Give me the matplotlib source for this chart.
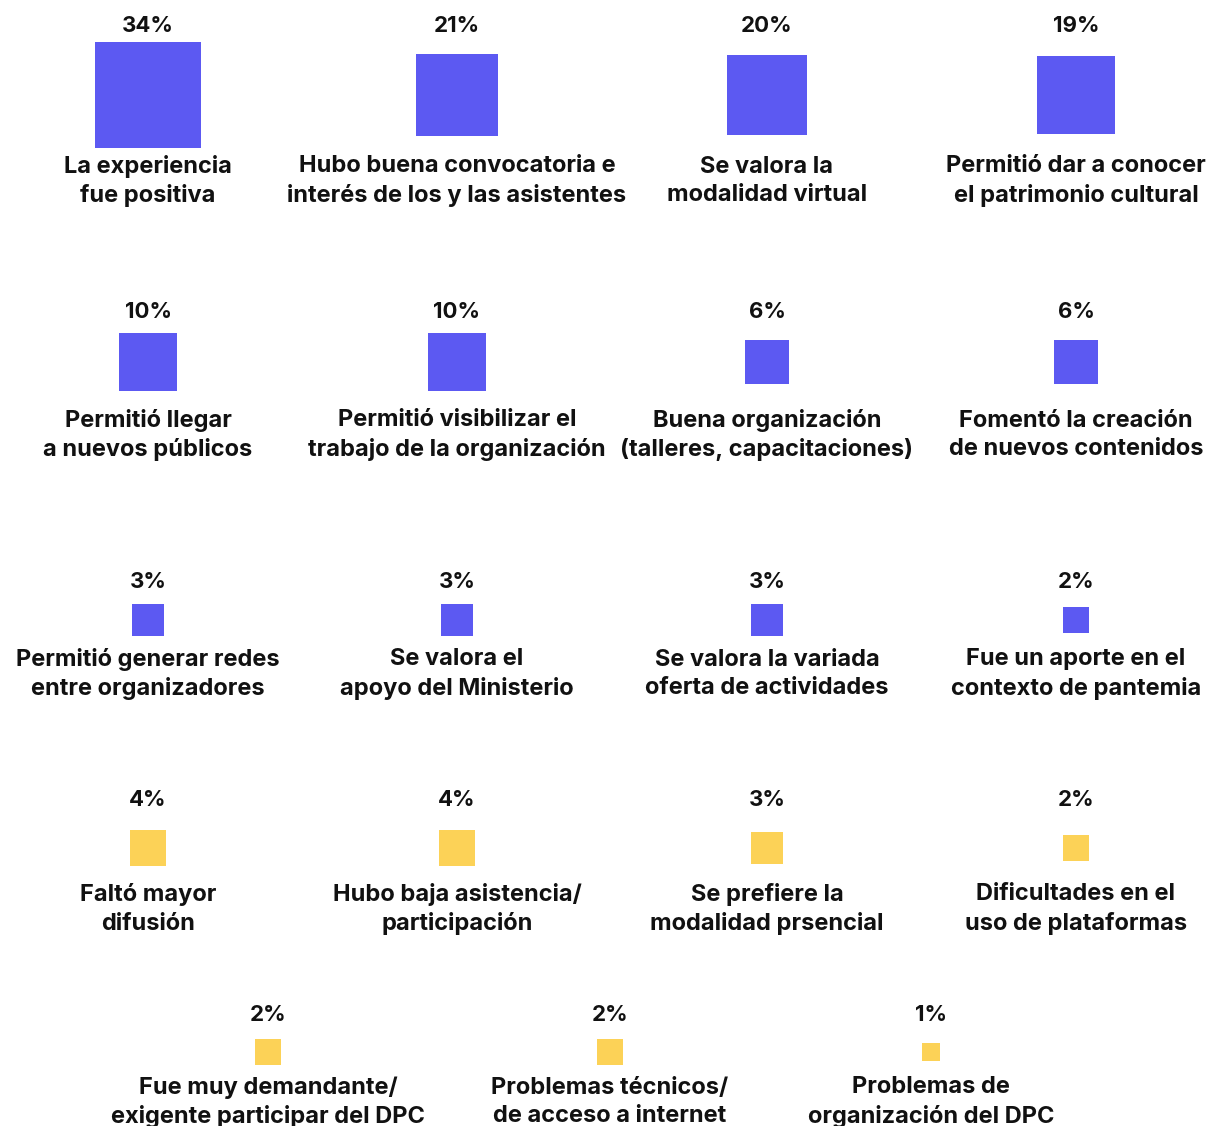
import matplotlib
matplotlib.use('Agg')
import matplotlib.pyplot as plt

# ---- data -------------------------------------------------------------
POS_LABELS = [
    'La experiencia\nfue positiva',
    'Hubo buena convocatoria e\ninterés de los y las asistentes',
    'Se valora la\nmodalidad virtual',
    'Permitió dar a conocer\nel patrimonio cultural',
    'Permitió llegar\na nuevos públicos',
    'Permitió visibilizar el\ntrabajo de la organización',
    'Buena organización\n(talleres, capacitaciones)',
    'Fomentó la creación\nde nuevos contenidos',
    'Permitió generar redes\nentre organizadores',
    'Se valora el\napoyo del Ministerio',
    'Se valora la variada\noferta de actividades',
    'Fue un aporte en el\ncontexto de pantemia',
]
POS_VALUES = [34, 21, 20, 19, 10, 10, 6, 6, 3, 3, 3, 2]

NEG_LABELS = [
    'Faltó mayor\ndifusión',
    'Hubo baja asistencia/\nparticipación',
    'Se prefiere la\nmodalidad prsencial',
    'Dificultades en el\nuso de plataformas',
    'Fue muy demandante/\nexigente participar del DPC',
    'Problemas técnicos/\nde acceso a internet',
    'Problemas de\norganización del DPC',
]
NEG_VALUES = [4, 4, 3, 2, 2, 2, 1]

# ---- layout (pixel space of the 1209x1126 canvas) ----------------------
W, H = 1209, 1126
COLS4 = [148, 457, 767, 1076]
COLS3 = [268, 610, 931]
# (value label y, square centre y, category label y) per row
ROWS = [(26, 95, 181), (312, 362, 435), (582, 620, 674), (800, 848, 909), (1015, 1052, 1102)]

BLUE, YELLOW, INK = '#5c59f2', '#fcd257', '#111111'
AREA_PER_PCT = 170   # marker area (pt^2) per percentage point
FONT = dict(family='Inter', weight='bold', color=INK)

fig = plt.figure(figsize=(W / 100, H / 100), dpi=100)
ax = fig.add_axes([0, 0, 1, 1])
ax.set_xlim(0, W)
ax.set_ylim(H, 0)
ax.axis('off')

# assign cells: positives fill rows 0-2 (4 per row), negatives rows 3-4
cells = []
for i, (lab, v) in enumerate(zip(POS_LABELS, POS_VALUES)):
    cells.append((COLS4[i % 4], ROWS[i // 4], lab, v, BLUE))
for i, (lab, v) in enumerate(zip(NEG_LABELS, NEG_VALUES)):
    if i < 4:
        cells.append((COLS4[i], ROWS[3], lab, v, YELLOW))
    else:
        cells.append((COLS3[i - 4], ROWS[4], lab, v, YELLOW))

for x, (y_val, y_sq, y_lab), lab, v, color in cells:
    ax.scatter([x], [y_sq], s=v * AREA_PER_PCT, marker='s', color=color, linewidths=0)
    ax.text(x, y_val, '{}%'.format(v), ha='center', va='center', fontsize=16, **FONT)
    ax.text(x, y_lab, lab, ha='center', va='center', linespacing=1.36,
            fontsize=17, **FONT)

fig.savefig('out.png', dpi=100, facecolor='white')
